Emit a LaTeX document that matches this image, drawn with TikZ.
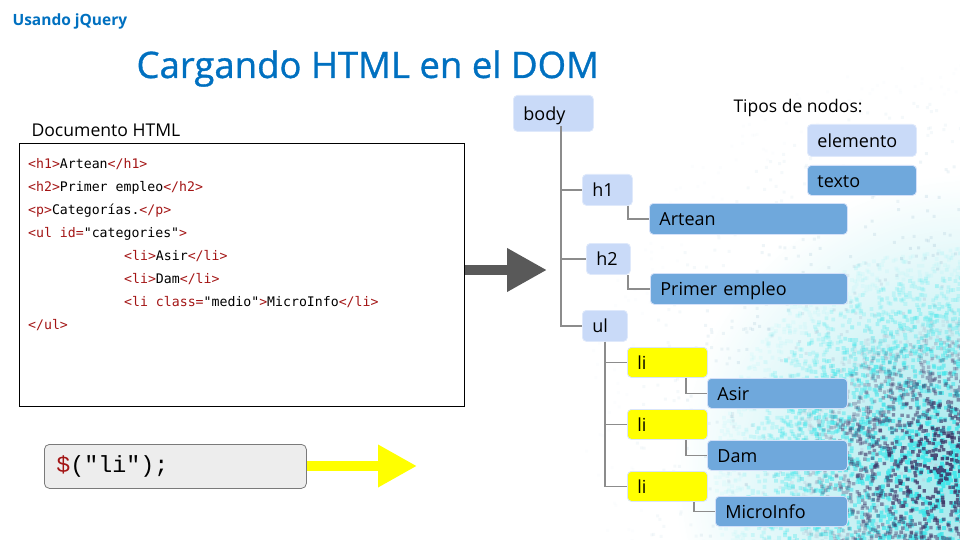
\documentclass[tikz,border=0pt]{standalone}
\usepackage{fontspec}
\setmainfont{Open Sans}
\newfontfamily\titlefont[FakeBold=0.9]{Open Sans}
\newfontfamily\codefont{DejaVu Sans Mono}
\newfontfamily\courfont{Liberation Mono}
\usetikzlibrary{arrows.meta,fadings}

\definecolor{titleblue}{HTML}{0070C0}
\definecolor{elemfill}{HTML}{C9DAF8}
\definecolor{textfill}{HTML}{6FA8DC}
\definecolor{lifill}{HTML}{FFFF00}
\definecolor{tagred}{HTML}{A31515}
\definecolor{linegray}{HTML}{8C8C8C}
\definecolor{arrowgray}{HTML}{595959}
\definecolor{codebg}{HTML}{EDEDED}
\definecolor{glowc}{HTML}{5CD6DE}
\definecolor{speckc}{HTML}{B9D3E0}
\definecolor{cyanc}{HTML}{3FE6EA}
\definecolor{darkc}{HTML}{3A2F62}

\tikzfading[name=glowfade, inner color=transparent!0, outer color=transparent!100]

\newcommand\tg[1]{\textcolor{tagred}{#1}}

% random square specks in eight rings around (#2,#3), evenly spread, fading outwards;
% ring k is drawn as 2k-1 short paths of #5 specks each
% #1 colour, #4 radius, #5 specks per path, #6 half size of a speck, #7 opacity of the inner ring
\newcommand\dotcloud[7]{%
  \foreach \k in {1,...,8}{%
    \pgfmathsetmacro\ringop{#7*(8.5-\k)/8}%
    \pgfmathtruncatemacro\ringb{2*\k-1}%
    \foreach \b in {1,...,\ringb}{%
      \fill[#1, fill opacity=\ringop]
        \foreach \i [evaluate=\i as \ang using 360*rnd,
                     evaluate=\i as \rr using #4*(\k-1+rnd)/8] in {1,...,#5}
          { ({#2+\rr*cos(\ang)},{#3+\rr*sin(\ang)}) ++(-#6,-#6) rectangle ++({2*#6},{2*#6}) };
    }%
  }}

\begin{document}
\begin{tikzpicture}[x=1pt,y=-1pt,
  treebox/.style={rounded corners=4pt, line width=0.8pt, inner xsep=10pt, inner ysep=0pt,
    anchor=north west, align=left, font=\fontsize{18}{18}\selectfont,
    text height=14pt, text depth=0pt},
  elem/.style={treebox, fill=elemfill, draw=elemfill!60!white},
  txt/.style={treebox, fill=textfill, draw=elemfill!80!white},
  libox/.style={treebox, fill=lifill, draw=elemfill!70!white},
  conn/.style={draw=linegray, line width=1.6pt},
  bigarrow/.style={draw=arrowgray, line width=10pt, -{Triangle[length=40pt,width=41pt]}},
  selarrow/.style={draw=lifill, line width=10pt, -{Triangle[length=39pt,width=40pt]}},
]
\useasboundingbox (0,0) rectangle (960,540);

% speckled corner texture
\begin{scope}
  \clip (560,60) rectangle (960,540);
  \fill[glowc, path fading=glowfade, fill opacity=0.6] (975,475) circle (300);
  \pgfmathsetseed{4711}
  \dotcloud{speckc}{965}{430}{380}{30}{1.5}{0.75}
  \dotcloud{cyanc}{945}{478}{230}{90}{1.9}{1}
  \dotcloud{darkc}{940}{470}{150}{40}{1.7}{0.9}
\end{scope}

% headings
\node[anchor=base west, text=titleblue, font=\fontsize{15.5}{15.5}\selectfont\bfseries] (header) at (9,26) {Usando jQuery};
\node[anchor=base west, text=titleblue, font=\titlefont\fontsize{36.5}{37}\selectfont] (title) at (133,78) {Cargando HTML en el DOM};

% HTML source
\node[anchor=base west, font=\fontsize{17.6}{18}\selectfont] (doclabel) at (28,137) {Documento HTML};
\node[draw=black, line width=1pt, anchor=north west, minimum width=445, minimum height=263, inner sep=0pt] (html) at (19,143) {};
\node[anchor=north west, align=left, inner sep=0pt, font=\codefont\fontsize{13.2}{23}\selectfont] (code) at (28,158) {%
\tg{<h1>}Artean\tg{</h1>}\\
\tg{<h2>}Primer empleo\tg{</h2>}\\
\tg{<p>}Categorías.\tg{</p>}\\
\tg{<ul id=}"categories"\tg{>}\\
\hspace*{96pt}\tg{<li>}Asir\tg{</li>}\\
\hspace*{96pt}\tg{<li>}Dam\tg{</li>}\\
\hspace*{96pt}\tg{<li class=}"medio"\tg{>}MicroInfo\tg{</li>}\\
\tg{</ul>}};

% jQuery selector
\node[draw=arrowgray!80, fill=codebg, rounded corners=5pt, line width=0.8pt, anchor=north west,
      minimum width=262, minimum height=44, inner xsep=12pt, text width=238, align=left,
      font=\courfont\fontsize{23.3}{23}\selectfont] (jq) at (44,444) {\tg{\$}("li");};

% arrows
\coordinate (domin) at (547,270);
\coordinate (sel) at (417,466);
\draw[bigarrow] (html.east |- domin) -- (domin);
\draw[selarrow] (jq.east |- sel) -- (sel);

% DOM tree nodes
\node[elem, minimum width=80, minimum height=36, text width=60] (body) at (513,95) {body};
\node[elem, minimum width=50, minimum height=31, text width=30] (h1) at (582,174) {h1};
\node[txt, minimum width=198, minimum height=31, text width=178] (artean) at (649,203) {Artean};
\node[elem, minimum width=44, minimum height=31, text width=24] (h2) at (586,243) {h2};
\node[txt, minimum width=197, minimum height=31, text width=177] (primer) at (650,273) {Primer empleo};
\node[elem, minimum width=45, minimum height=31, text width=25] (ul) at (582,310) {ul};
\node[libox, minimum width=80, minimum height=30, text width=60] (li1) at (627,347) {li};
\node[txt, minimum width=140, minimum height=30, text width=120] (asir) at (707,378) {Asir};
\node[libox, minimum width=80, minimum height=30, text width=60] (li2) at (627,409) {li};
\node[txt, minimum width=140, minimum height=30, text width=120] (dam) at (707,440) {Dam};
\node[libox, minimum width=80, minimum height=30, text width=60] (li3) at (627,471) {li};
\node[txt, minimum width=132, minimum height=30, text width=112] (micro) at (715,496) {MicroInfo};

% DOM tree connectors
\coordinate (trunk) at (561,126);
\draw[conn] (trunk) |- (ul.west);
\draw[conn] (trunk |- h1.west) -- (h1.west);
\draw[conn] (trunk |- h2.west) -- (h2.west);
\draw[conn] ([xshift=-5pt]h1.south east) |- (artean.west);
\draw[conn] ([xshift=-3pt]h2.south east) |- (primer.west);
\draw[conn] (ul.south) |- (li1.west);
\draw[conn] (ul.south) |- (li2.west);
\draw[conn] (ul.south) |- (li3.west);
\draw[conn] ([xshift=-22pt]li1.south east) |- (asir.west);
\draw[conn] ([xshift=-22pt]li2.south east) |- (dam.west);
\draw[conn] ([xshift=-14pt]li3.south east) |- (micro.west);

% legend
\node[anchor=base west, font=\fontsize{17.5}{18}\selectfont] (legend) at (730,113) {Tipos de nodos:};
\node[elem, minimum width=109, minimum height=32, text width=89] (lgelem) at (807,124) {elemento};
\node[txt, minimum width=109, minimum height=30, text width=89] (lgtext) at (807,165) {texto};
\end{tikzpicture}
\end{document}
